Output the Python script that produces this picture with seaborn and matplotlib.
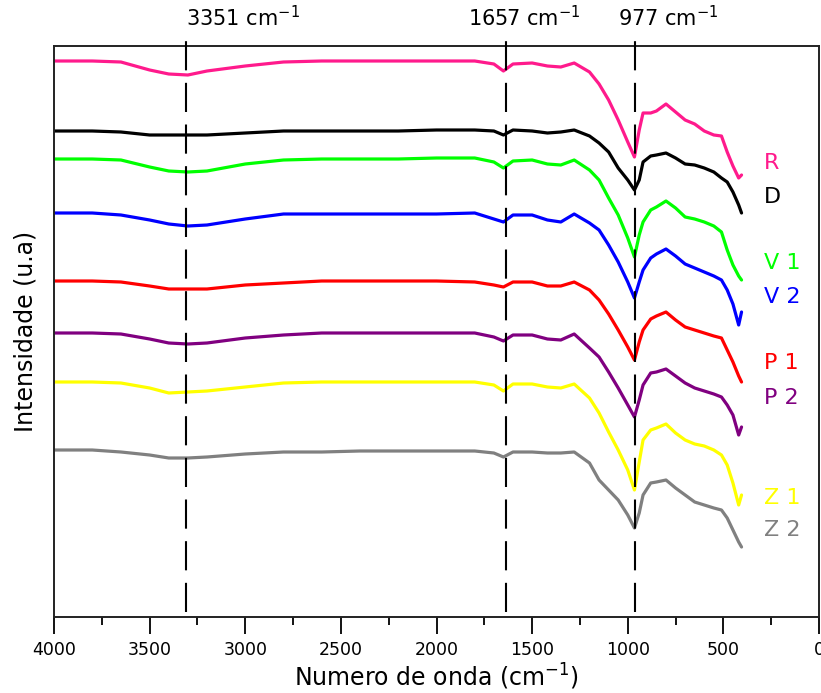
import matplotlib
matplotlib.use("Agg")
import matplotlib.pyplot as plt
import matplotlib.transforms as mtransforms
from matplotlib.ticker import MultipleLocator
import numpy as np
import pandas as pd
import seaborn as sns

# Wavenumber grid (cm^-1)
wavenumber = [4000, 3800, 3650, 3500, 3400, 3300, 3200, 3000, 2800, 2600, 2400, 2200,
              2000, 1800, 1700, 1650, 1600, 1500, 1420, 1350, 1280, 1200, 1150, 1100,
              1050, 1000, 965, 940, 920, 880, 850, 800, 750, 700, 650, 600, 550, 510,
              480, 450, 420, 405]

# Intensities (a.u., stacked spectra)
R = [556, 556, 555, 547, 543, 542, 546, 551, 555, 556, 556, 556, 556, 556, 553, 546, 553, 554,
     551, 550, 554, 545, 533, 517, 497, 475, 460, 487, 504, 504, 506, 513, 505, 497, 493, 486,
     482, 481, 465, 451, 439, 442]
D = [486, 486, 485, 482, 482, 482, 482, 484, 486, 486, 486, 486, 487, 487, 486, 482, 487, 486,
     484, 485, 487, 481, 474, 465, 449, 437, 427, 437, 455, 461, 462, 464, 459, 453, 452, 449,
     445, 439, 435, 425, 412, 404]
V1 = [458, 458, 457, 450, 446, 445, 446, 453, 457, 458, 458, 458, 459, 459, 455, 449, 456, 457,
      453, 452, 457, 447, 437, 419, 402, 379, 360, 382, 395, 407, 410, 416, 409, 400, 398, 395,
      391, 385, 367, 352, 341, 337]
V2 = [404, 404, 402, 397, 393, 391, 392, 398, 403, 403, 403, 403, 403, 404, 398, 395, 402, 402,
      397, 395, 403, 394, 387, 372, 355, 335, 319, 335, 347, 359, 363, 368, 361, 353, 349, 345,
      341, 337, 327, 313, 292, 305]
P1 = [336, 336, 335, 331, 328, 328, 328, 332, 334, 336, 336, 336, 336, 335, 332, 330, 335, 335,
      331, 331, 335, 327, 317, 303, 287, 270, 257, 275, 287, 298, 301, 305, 297, 290, 287, 284,
      281, 279, 267, 255, 241, 235]
P2 = [284, 284, 283, 278, 274, 273, 274, 279, 282, 284, 284, 284, 284, 284, 280, 276, 282, 282,
      278, 277, 283, 269, 260, 245, 229, 212, 200, 217, 232, 244, 245, 248, 241, 234, 229, 226,
      223, 220, 212, 202, 182, 190]
Z1 = [235, 235, 234, 229, 224, 225, 226, 230, 234, 235, 235, 235, 235, 235, 232, 226, 233, 233,
      230, 229, 233, 219, 204, 185, 167, 147, 127, 155, 177, 187, 189, 193, 184, 177, 173, 171,
      167, 162, 152, 134, 112, 122]
Z2 = [167, 167, 165, 162, 159, 159, 160, 163, 165, 165, 166, 166, 166, 166, 164, 160, 165, 165,
      164, 164, 165, 154, 137, 127, 117, 102, 89, 104, 122, 134, 135, 137, 129, 122, 115, 112,
      109, 107, 99, 87, 75, 70]

series_names = ["R", "D", "V1", "V2", "P1", "P2", "Z1", "Z2"]
series_values = [R, D, V1, V2, P1, P2, Z1, Z2]
series_labels = ["R", "D", "V 1", "V 2", "P 1", "P 2", "Z 1", "Z 2"]
label_y = [454, 420, 354, 320, 254, 219, 119, 87]
colors = ["#FF1A8C", "#000000", "#00FF00", "#0000FF", "#FF0000", "#800080", "#FFFF00", "#808080"]

peak_positions = [3310, 1635, 962]
peak_labels = ["3351 cm$^{\\mathregular{-1}}$", "1657 cm$^{\\mathregular{-1}}$", "977 cm$^{\\mathregular{-1}}$"]
peak_label_x = [3010, 1540, 790]

xticks = [4000, 3500, 3000, 2500, 2000, 1500, 1000, 500, 0]

df = pd.DataFrame({
    "wavenumber": np.tile(wavenumber, len(series_names)),
    "intensity": np.concatenate(series_values),
    "sample": np.repeat(series_names, len(wavenumber)),
})

sns.set_style("ticks")
plt.rcParams["font.family"] = ["DejaVu Sans"]
plt.rcParams["text.color"] = "black"
plt.rcParams["axes.labelcolor"] = "black"
plt.rcParams["xtick.color"] = "black"

fig = plt.figure(figsize=(8.21, 6.93), dpi=100)
ax = fig.add_axes([54 / 821, 1 - 617 / 693, (819 - 54) / 821, (617 - 46) / 693])

sns.lineplot(data=df, x="wavenumber", y="intensity", hue="sample",
             hue_order=series_names, palette=dict(zip(series_names, colors)),
             estimator=None, linewidth=2.3, legend=False, ax=ax)

ax.set_xlim(4000, 0)
ax.set_ylim(0, 571)

# dashed reference lines (extend slightly above the frame)
trans = mtransforms.blended_transform_factory(ax.transData, ax.transAxes)
for xp in peak_positions:
    ax.plot([xp, xp], [0.008, 1.012], transform=trans, color="black", lw=1.5,
            dashes=(14, 6), clip_on=False, zorder=5)

for xl, lab in zip(peak_label_x, peak_labels):
    ax.text(xl, 1.028, lab, transform=trans, ha="center", va="bottom", fontsize=15)

for lab, yv, c in zip(series_labels, label_y, colors):
    ax.text(290, yv, lab, color=c, fontsize=16, ha="left", va="center")

ax.set_xticks(xticks)
ax.set_xticklabels([str(t) for t in xticks])
ax.xaxis.set_minor_locator(MultipleLocator(250))
ax.tick_params(axis="x", which="major", direction="out", length=12, width=1.3,
               labelsize=12.5, pad=5, colors="black")
ax.tick_params(axis="x", which="minor", direction="out", length=6, width=1.3)
ax.set_yticks([])

for s in ax.spines.values():
    s.set_visible(True)
    s.set_linewidth(1.4)
    s.set_color("#222222")

ax.set_xlabel("Numero de onda (cm$^{\\mathregular{-1}}$)", fontsize=17, labelpad=2)
ax.set_ylabel("Intensidade (u.a)", fontsize=17, labelpad=12)

fig.savefig("out.png", dpi=100)
